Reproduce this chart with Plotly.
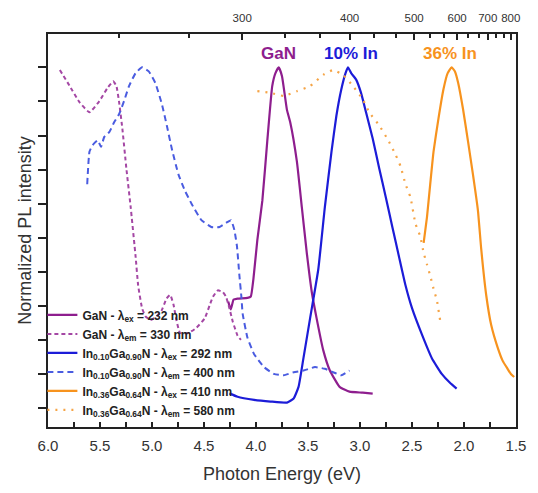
import plotly.graph_objects as go

# ---------------- data ----------------
# GaN PL (lambda_ex = 232 nm)
gan_pl_E = [4.267, 4.243, 4.215, 4.177, 4.082, 4.050, 4.025, 3.987, 3.939, 3.892, 3.844, 3.813,
            3.781, 3.750, 3.703, 3.671, 3.607, 3.559, 3.512, 3.464, 3.417, 3.353, 3.291, 3.196,
            3.101, 2.973, 2.878]
gan_pl_I = [0.313, 0.290, 0.319, 0.322, 0.324, 0.328, 0.379, 0.494, 0.609, 0.782, 0.945, 0.983,
            1.000, 0.974, 0.876, 0.839, 0.724, 0.589, 0.457, 0.342, 0.264, 0.170, 0.112, 0.063,
            0.049, 0.046, 0.043]

# GaN PLE (lambda_em = 330 nm)
gan_ple_E = [5.886, 5.791, 5.696, 5.601, 5.506, 5.427, 5.373, 5.342, 5.316, 5.285, 5.247, 5.205,
             5.158, 5.133, 5.095, 5.063, 5.012, 4.955, 4.908, 4.860, 4.825, 4.794, 4.763, 4.730,
             4.651, 4.573, 4.493, 4.445, 4.414, 4.367, 4.319, 4.288, 4.255, 4.224, 4.177, 4.145]
gan_ple_I = [0.992, 0.945, 0.897, 0.868, 0.901, 0.940, 0.959, 0.945, 0.897, 0.820, 0.705, 0.590,
             0.446, 0.360, 0.293, 0.270, 0.259, 0.270, 0.287, 0.322, 0.333, 0.305, 0.256, 0.221,
             0.221, 0.236, 0.264, 0.303, 0.327, 0.346, 0.341, 0.327, 0.293, 0.255, 0.213, 0.201]

# In0.10Ga0.90N PL (lambda_ex = 292 nm)
in10_pl_E = [4.255, 4.177, 4.018, 3.860, 3.702, 3.638, 3.591, 3.543, 3.480, 3.401, 3.338, 3.274,
             3.227, 3.180, 3.139, 3.116, 3.085, 3.037, 2.990, 2.942, 2.878, 2.816, 2.752, 2.689,
             2.626, 2.562, 2.499, 2.404, 2.309, 2.214, 2.135, 2.071]
in10_pl_I = [0.044, 0.034, 0.025, 0.020, 0.017, 0.029, 0.063, 0.149, 0.264, 0.408, 0.590, 0.753,
             0.858, 0.935, 0.983, 1.000, 0.983, 0.964, 0.925, 0.868, 0.791, 0.705, 0.619, 0.532,
             0.446, 0.360, 0.293, 0.216, 0.147, 0.101, 0.075, 0.058]

# In0.10Ga0.90N PLE (lambda_em = 400 nm)
in10_ple_E = [5.623, 5.601, 5.570, 5.522, 5.490, 5.459, 5.411, 5.364, 5.316, 5.269, 5.221, 5.158,
              5.095, 5.031, 4.968, 4.905, 4.858, 4.810, 4.746, 4.683, 4.620, 4.525, 4.430, 4.350,
              4.272, 4.240, 4.208, 4.183, 4.160, 4.139, 4.129, 4.082, 4.018, 3.923, 3.828, 3.733,
              3.638, 3.543, 3.433, 3.338, 3.258, 3.180, 3.101]
in10_ple_I = [0.657, 0.753, 0.772, 0.786, 0.767, 0.796, 0.810, 0.839, 0.863, 0.901, 0.945, 0.983,
              1.000, 0.988, 0.954, 0.892, 0.830, 0.762, 0.686, 0.638, 0.600, 0.552, 0.532, 0.532,
              0.547, 0.552, 0.523, 0.475, 0.391, 0.322, 0.279, 0.207, 0.159, 0.121, 0.101, 0.097,
              0.106, 0.111, 0.121, 0.116, 0.106, 0.097, 0.111]

# In0.36Ga0.64N PL (lambda_ex = 410 nm)
in36_pl_E = [2.388, 2.356, 2.325, 2.293, 2.246, 2.198, 2.157, 2.119, 2.087, 2.056, 2.009, 1.961,
             1.914, 1.866, 1.834, 1.786, 1.739, 1.676, 1.629, 1.581, 1.549, 1.518]
in36_pl_I = [0.485, 0.561, 0.657, 0.753, 0.849, 0.935, 0.983, 1.000, 0.988, 0.954, 0.877, 0.782,
             0.686, 0.580, 0.466, 0.331, 0.245, 0.178, 0.140, 0.116, 0.101, 0.092]

# In0.36Ga0.64N PLE (lambda_em = 580 nm)
in36_ple_E = [3.987, 3.860, 3.733, 3.607, 3.480, 3.353, 3.258, 3.163, 3.068, 2.973, 2.911, 2.816,
              2.721, 2.657, 2.610, 2.562, 2.515, 2.467, 2.420, 2.388, 2.356, 2.325, 2.293, 2.261,
              2.230]
in36_ple_I = [0.930, 0.925, 0.916, 0.930, 0.945, 0.978, 0.992, 0.978, 0.945, 0.906, 0.868, 0.830,
              0.782, 0.743, 0.710, 0.657, 0.619, 0.542, 0.504, 0.456, 0.422, 0.389, 0.351, 0.317,
              0.259]

# top axis (wavelength) ticks
wl_major = [300, 400, 500, 600, 700, 800]
wl_major_text = ["300", "400", "500", "600", "700", "800"]
wl_minor = [233.3, 266.7, 333.3, 366.7, 433.3, 466.7, 533.3, 566.7, 633.3, 666.7, 733.3, 766.7]
HC = 1239.84  # eV*nm

# peak labels
peak_labels = ["GaN", "10% In", "36% In"]
peak_label_E = [3.787, 3.085, 2.135]

# ---------------- styling ----------------
FONT = "Arial, Liberation Sans, sans-serif"
purple = "#8E1E8E"
purple_d = "#A447A4"
blue = "#1C1CD8"
blue_d = "#4A5CE0"
orange = "#F7931E"
orange_d = "#F5A446"

def legname(s):
    return "<b>" + s + "</b>"

fig = go.Figure()

fig.add_trace(go.Scatter(x=gan_pl_E, y=gan_pl_I, mode="lines",
                         line=dict(color=purple, width=2.2, shape="spline", smoothing=0.4),
                         name=legname("GaN - λ<sub>ex</sub> = 232 nm")))
fig.add_trace(go.Scatter(x=gan_ple_E, y=gan_ple_I, mode="lines",
                         line=dict(color=purple_d, width=2, dash="4px,3px", shape="spline", smoothing=0.4),
                         name=legname("GaN - λ<sub>em</sub> = 330 nm")))
fig.add_trace(go.Scatter(x=in10_pl_E, y=in10_pl_I, mode="lines",
                         line=dict(color=blue, width=2.2, shape="spline", smoothing=0.4),
                         name=legname("In<sub>0.10</sub>Ga<sub>0.90</sub>N - λ<sub>ex</sub> = 292 nm")))
fig.add_trace(go.Scatter(x=in10_ple_E, y=in10_ple_I, mode="lines",
                         line=dict(color=blue_d, width=2, dash="6px,4px", shape="spline", smoothing=0.4),
                         name=legname("In<sub>0.10</sub>Ga<sub>0.90</sub>N - λ<sub>em</sub> = 400 nm")))
fig.add_trace(go.Scatter(x=in36_pl_E, y=in36_pl_I, mode="lines",
                         line=dict(color=orange, width=2.2, shape="spline", smoothing=0.4),
                         name=legname("In<sub>0.36</sub>Ga<sub>0.64</sub>N - λ<sub>ex</sub> = 410 nm")))
fig.add_trace(go.Scatter(x=in36_ple_E, y=in36_ple_I, mode="lines",
                         line=dict(color=orange_d, width=2.2, dash="2px,6px", shape="spline", smoothing=0.4),
                         name=legname("In<sub>0.36</sub>Ga<sub>0.64</sub>N - λ<sub>em</sub> = 580 nm")))

# invisible trace to bind the top (wavelength) axis
fig.add_trace(go.Scatter(x=[6.0, 1.5], y=[None, None], xaxis="x2", yaxis="y",
                         mode="lines", showlegend=False, hoverinfo="skip"))

for txt, e, col in zip(peak_labels, peak_label_E, [purple, blue, orange]):
    fig.add_annotation(x=e, y=1.04, text="<b>" + txt + "</b>", showarrow=False,
                       font=dict(family=FONT, size=17, color=col), xref="x", yref="y")

axis_col = "#222222"
fig.update_layout(
    width=538, height=493,
    margin=dict(l=48, r=17, t=30, b=62),
    paper_bgcolor="white", plot_bgcolor="white",
    font=dict(family=FONT, color="#333333"),
    showlegend=True,
    hovermode=False,
    legend=dict(x=-0.012, y=0.322, xanchor="left", yanchor="top",
                bgcolor="rgba(0,0,0,0)", borderwidth=0,
                font=dict(family=FONT, size=12, color="#222222"),
                itemwidth=30, tracegroupgap=0),
    xaxis=dict(range=[6.0, 1.5], tickmode="linear", tick0=1.5, dtick=0.5, tickformat=".1f",
               ticks="inside", ticklen=5, tickwidth=1.5, tickcolor=axis_col,
               minor=dict(dtick=0.25, tick0=1.5, ticks="inside", ticklen=5, tickwidth=1.5,
                          tickcolor=axis_col),
               showline=True, linecolor=axis_col, linewidth=1.6, showgrid=False, zeroline=False,
               ticklabelstandoff=4,
               tickfont=dict(family=FONT, size=15, color="#333333"),
               title=dict(text="Photon Energy (eV)", standoff=15,
                          font=dict(family=FONT, size=18, color="#333333"))),
    xaxis2=dict(range=[6.0, 1.5], overlaying="x", side="top", anchor="y",
                tickmode="array", tickvals=[HC / w for w in wl_major], ticktext=wl_major_text,
                ticks="inside", ticklen=6, tickwidth=1.5, tickcolor=axis_col,
                minor=dict(tickmode="array", tickvals=[HC / w for w in wl_minor],
                           ticks="inside", ticklen=4, tickwidth=1.5, tickcolor=axis_col),
                showline=True, linecolor=axis_col, linewidth=1.6, showgrid=False, zeroline=False,
                ticklabelstandoff=6,
                tickfont=dict(family=FONT, size=11.5, color="#333333")),
    yaxis=dict(range=[-0.0546, 1.0977], tickmode="linear", tick0=0, dtick=0.1,
               ticks="outside", ticklen=8, tickwidth=1.5, tickcolor=axis_col,
               showticklabels=False, showline=True, mirror=True, linecolor=axis_col, linewidth=1.6,
               showgrid=False, zeroline=False,
               title=dict(text="Normalized PL intensity", standoff=2,
                          font=dict(family=FONT, size=18, color="#333333"))),
)

# remove the browser's default 8px body margin so the figure fills the window exactly
fig.write_html("out.html", config={"displayModeBar": False},
               post_script="document.body.style.margin='0';")
